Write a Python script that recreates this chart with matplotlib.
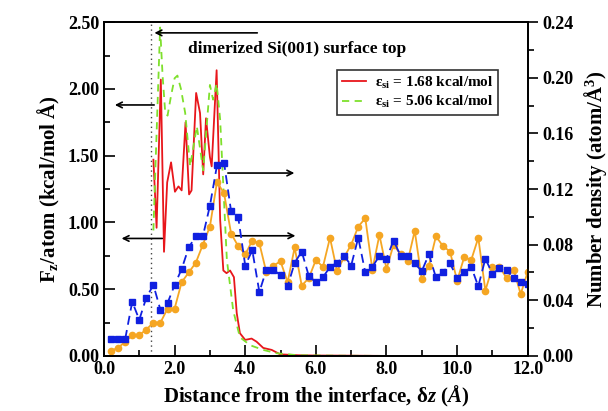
import numpy as np
import matplotlib
matplotlib.use("Agg")
import matplotlib.pyplot as plt
from matplotlib.ticker import MultipleLocator, FormatStrFormatter

# Fuerza por átomo (eje izquierdo)
x_f168 = [1.40, 1.49, 1.61, 1.70, 1.79, 1.90, 2.01, 2.11, 2.20, 2.31, 2.41, 2.48,
          2.61, 2.72, 2.81, 2.89, 3.00, 3.05, 3.19, 3.29, 3.38, 3.47, 3.57, 3.68,
          3.76, 3.85, 4.00, 4.18, 4.32, 4.51, 4.75, 4.99, 5.50, 6.00, 7.00, 8.00]
f168 = [1.47, 0.96, 2.07, 0.78, 1.30, 1.45, 1.23, 1.27, 1.24, 1.75, 1.21, 1.24,
        1.97, 1.82, 1.36, 1.78, 1.49, 1.42, 2.14, 1.02, 0.64, 0.62, 0.64, 0.59,
        0.32, 0.17, 0.12, 0.13, 0.107, 0.06, 0.045, 0.012, 0.005, 0.003, 0.002, 0.0]

x_f506 = [1.40, 1.44, 1.59, 1.66, 1.73, 1.80, 1.90, 2.00, 2.08, 2.18, 2.30, 2.44,
          2.63, 2.81, 3.00, 3.09, 3.19, 3.29, 3.38, 3.48, 3.66, 3.85, 4.14, 4.51,
          4.89, 5.50, 6.50, 8.00]
f506 = [0.94, 1.27, 2.46, 2.10, 1.84, 1.80, 1.95, 2.08, 2.10, 2.00, 1.82, 1.42,
        1.72, 1.39, 2.03, 1.92, 2.04, 1.77, 1.27, 0.72, 0.34, 0.14, 0.08, 0.045,
        0.02, 0.005, 0.002, 0.0]

# Densidad numérica (eje derecho)
x_dens = [0.2, 0.4, 0.6, 0.8, 1.0, 1.2, 1.4, 1.6, 1.8, 2.0, 2.2, 2.4, 2.6, 2.8, 3.0,
          3.2, 3.4, 3.6, 3.8, 4.0, 4.2, 4.4, 4.6, 4.8, 5.0, 5.2, 5.4, 5.6, 5.8, 6.0,
          6.2, 6.4, 6.6, 6.8, 7.0, 7.2, 7.4, 7.6, 7.8, 8.0, 8.2, 8.4, 8.6, 8.8, 9.0,
          9.2, 9.4, 9.6, 9.8, 10.0, 10.2, 10.4, 10.6, 10.8, 11.0, 11.2, 11.4, 11.6, 11.8, 12.0]
dens_blue = [0.012, 0.012, 0.012, 0.039, 0.026, 0.042, 0.051, 0.033, 0.038, 0.051,
             0.0625, 0.078, 0.086, 0.086, 0.108, 0.137, 0.139, 0.104, 0.100, 0.065,
             0.076, 0.046, 0.062, 0.062, 0.058, 0.050, 0.067, 0.075, 0.0575, 0.053,
             0.0565, 0.064, 0.067, 0.072, 0.065, 0.085, 0.060, 0.064, 0.072, 0.070,
             0.083, 0.072, 0.072, 0.0665, 0.061, 0.073, 0.0565, 0.060, 0.0665, 0.056,
             0.060, 0.064, 0.050, 0.070, 0.059, 0.063, 0.062, 0.056, 0.053, 0.052]
dens_orange = [0.0036, 0.006, 0.010, 0.015, 0.015, 0.019, 0.024, 0.024, 0.034, 0.034,
               0.053, 0.060, 0.067, 0.080, 0.093, 0.125, 0.117, 0.088, 0.079, 0.073,
               0.083, 0.081, 0.060, 0.065, 0.068, 0.053, 0.078, 0.0505, 0.056, 0.069,
               0.064, 0.085, 0.061, 0.071, 0.080, 0.093, 0.099, 0.062, 0.087, 0.0625,
               0.080, 0.073, 0.068, 0.090, 0.055, 0.065, 0.086, 0.079, 0.075, 0.054,
               0.071, 0.069, 0.085, 0.047, 0.064, 0.064, 0.056, 0.062, 0.0445, 0.0605]

surface_top = 1.33

plt.rcParams['font.family'] = ['Liberation Serif', 'DejaVu Serif']
plt.rcParams['font.weight'] = 'bold'
plt.rcParams['axes.labelweight'] = 'bold'
plt.rcParams['mathtext.fontset'] = 'custom'
plt.rcParams['mathtext.rm'] = 'Liberation Serif:bold'
plt.rcParams['mathtext.it'] = 'Liberation Serif:italic:bold'
plt.rcParams['mathtext.bf'] = 'Liberation Serif:bold'
plt.rcParams['mathtext.default'] = 'rm'

fig = plt.figure(figsize=(6.08, 4.11), dpi=100)
ax = fig.add_axes([0.171, 0.134, 0.697, 0.812])
ax2 = ax.twinx()

ax.plot(x_f168, f168, color='#e8161b', lw=1.3, label='ε$_{si}$ = 1.68 kcal/mol')
ax.plot(x_f506, f506, color='#7ee02c', lw=1.3, ls=(0, (4, 3)),
        label='ε$_{si}$ = 5.06 kcal/mol')
ax.axvline(surface_top, color='#444444', lw=1, ls=(0, (1, 2.5)))

ax2.plot(x_dens, dens_orange, color='#f5a623', lw=1.3, marker='o', ms=4.5)
ax2.plot(x_dens, dens_blue, color='#1020e0', lw=1.3, ls=(0, (5, 3)), marker='s', ms=4)

ax.set_xlim(0, 12)
ax.set_ylim(0, 2.5)
ax2.set_ylim(0, 0.24)

ax.xaxis.set_major_locator(MultipleLocator(2))
ax.xaxis.set_minor_locator(MultipleLocator(1))
ax.yaxis.set_major_locator(MultipleLocator(0.5))
ax.yaxis.set_minor_locator(MultipleLocator(0.25))
ax2.yaxis.set_major_locator(MultipleLocator(0.04))
ax2.yaxis.set_minor_locator(MultipleLocator(0.02))
ax.xaxis.set_major_formatter(FormatStrFormatter('%.1f'))
ax.yaxis.set_major_formatter(FormatStrFormatter('%.2f'))
ax2.yaxis.set_major_formatter(FormatStrFormatter('%.2f'))

ax.tick_params(axis='both', which='both', direction='in', labelsize=13, width=1.2)
ax.tick_params(axis='both', which='major', length=8)
ax.tick_params(axis='both', which='minor', length=4)
ax.tick_params(axis='x', pad=4)
ax2.tick_params(axis='y', which='both', direction='out', labelsize=13, width=1.2)
ax2.tick_params(axis='y', which='major', length=7)
ax2.tick_params(axis='y', which='minor', length=4)
for a in (ax, ax2):
    for s in a.spines.values():
        s.set_linewidth(1.3)

ax.set_xlabel(r'Distance from the interface, δ$\mathit{z}$ $\mathit{(Å)}$', fontsize=15)
ax.set_ylabel(r'F$_z$/atom (kcal/mol Å)', fontsize=15, labelpad=4)
ax2.set_ylabel(r'Number density (atom/Å$^3$)', fontsize=15, labelpad=6)

# Flechas y anotaciones
arrow = dict(arrowstyle='->', color='black', lw=1.2)
ax.annotate('', xy=(surface_top + 0.02, 2.42), xytext=(4.42, 2.42), arrowprops=arrow)
ax.text(2.38, 2.30, 'dimerized Si(001) surface top', fontsize=12.5, va='center')
ax.annotate('', xy=(0.23, 1.88), xytext=(1.50, 1.88), arrowprops=arrow)
ax.annotate('', xy=(0.42, 0.88), xytext=(1.73, 0.88), arrowprops=arrow)
ax.annotate('', xy=(5.47, 1.37), xytext=(3.43, 1.37), arrowprops=arrow)
ax.annotate('', xy=(5.50, 0.90), xytext=(3.63, 0.90), arrowprops=arrow)

leg = ax.legend(loc='upper left', bbox_to_anchor=(0.55, 0.856), fontsize=11,
                frameon=True, fancybox=False, edgecolor='black', handlelength=1.6,
                borderpad=0.3, labelspacing=0.2, handletextpad=0.6, borderaxespad=0)
leg.get_frame().set_linewidth(1.2)

fig.savefig('out.png', dpi=100)
